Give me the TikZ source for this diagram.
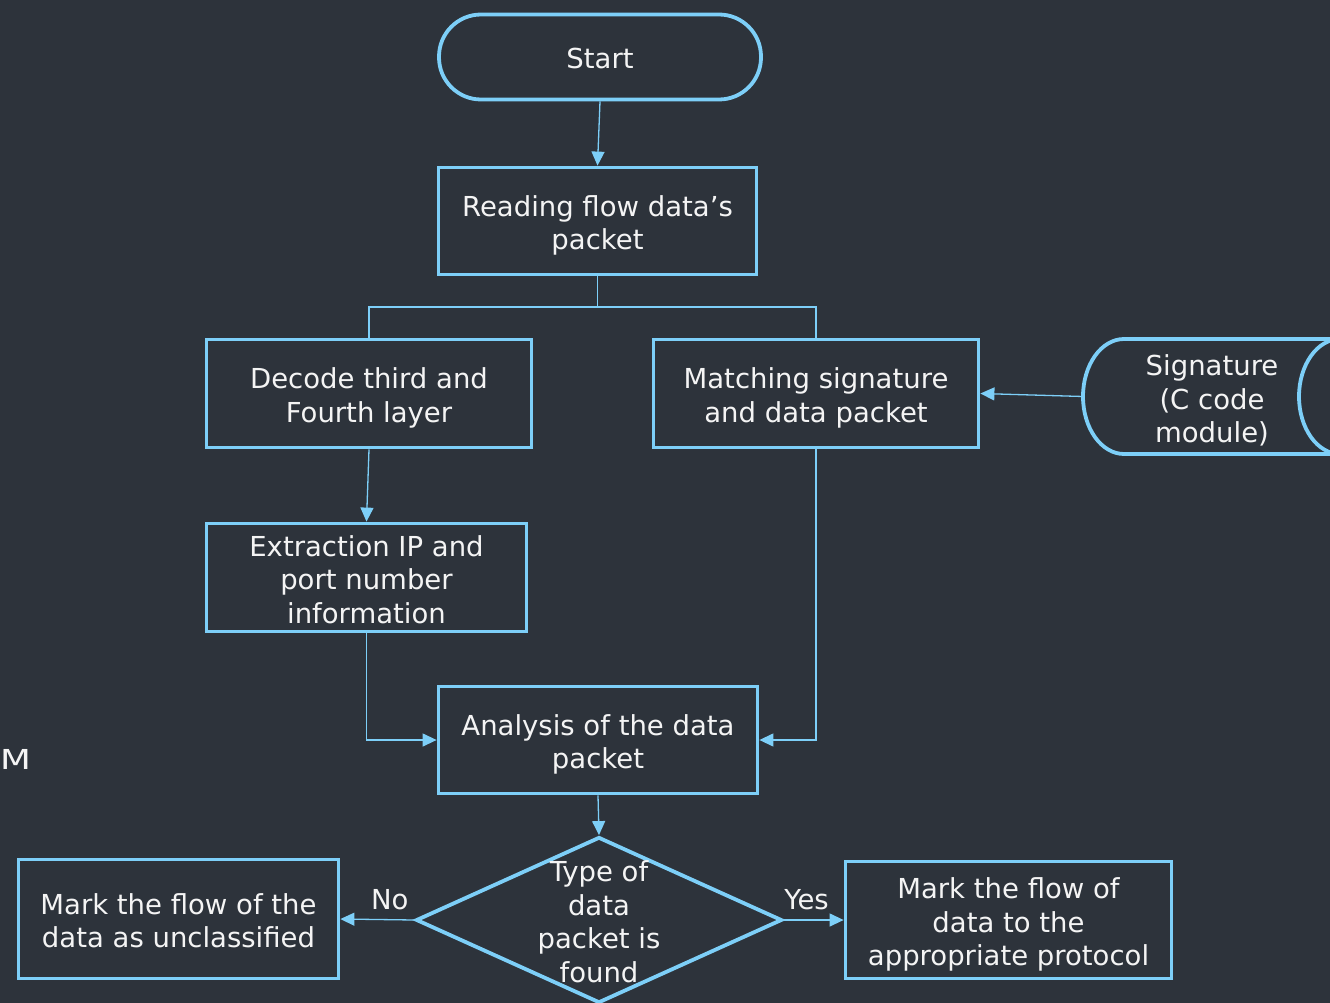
\documentclass[tikz,border=0pt]{standalone}
\usepackage{fontspec}
\setmainfont{DejaVu Sans}
\usetikzlibrary{shapes.geometric,arrows.meta}
\definecolor{bg}{HTML}{2D333B}
\definecolor{ln}{HTML}{7DCFF8}
\definecolor{tx}{HTML}{F4F4F4}
\newcommand\lnst{\rule[-6.5pt]{0pt}{32pt}}
\newcommand\lnfs{\rule[-6.5pt]{0pt}{37pt}}
\begin{document}
\begin{tikzpicture}[x=1pt,y=-1pt,
  txt/.style={text=tx, align=center, inner sep=0pt, font=\fontsize{27.5pt}{33.5pt}\selectfont},
  box/.style={txt, draw=ln, line width=3.8pt},
  conn/.style={draw=ln, line width=1.3pt, -{Triangle[length=14pt,width=13pt]}},
  plain/.style={draw=ln, line width=1.3pt},
  lbl/.style={text=tx, inner sep=3pt, font=\fontsize{27.5pt}{33.5pt}\selectfont}]
\fill[bg] (0,0) rectangle (1330,1003);
\useasboundingbox (0,0) rectangle (1330,1003);

\node[box, rounded corners=42pt, minimum width=322pt, minimum height=85pt] (start) at (600,57) {\lnfs Start};
\node[box, minimum width=318pt, minimum height=107pt] (read) at (597.5,221) {\lnfs Reading flow data’s\\\lnst packet};
\node[box, minimum width=325pt, minimum height=108pt] (decode) at (369,393.5) {\lnfs Decode third and\\\lnst Fourth layer};
\node[box, minimum width=325pt, minimum height=108pt] (match) at (816,393.5) {\lnfs Matching signature\\\lnst and data packet};
\node[box, minimum width=320pt, minimum height=108pt] (extract) at (366.5,577.5) {\lnfs Extraction IP and\\\lnst port number\\\lnst information};
\node[box, minimum width=319pt, minimum height=107pt] (analysis) at (598,740) {\lnfs Analysis of the data\\\lnst packet};
\node[draw=ln, line width=3.8pt, diamond, inner sep=0pt, minimum width=366pt, minimum height=166pt] (dia) at (599,920) {};
\node[txt] (diatext) at (599,920) {\lnfs Type of\\\lnst data\\\lnst packet is\\\lnst found};
\node[box, minimum width=320pt, minimum height=119pt] (uncl) at (178.5,919) {\lnfs Mark the flow of the\\\lnst data as unclassified};
\node[box, minimum width=326pt, minimum height=117pt] (proto) at (1008.5,920) {\lnfs Mark the flow of\\\lnst data to the\\\lnst appropriate protocol};

% signature stored-data shape
\draw[ln, line width=3.8pt] (1345,339) -- (1124,339) arc[start angle=270, end angle=90, x radius=41, y radius=57.5] -- (1345,454);
\draw[ln, line width=3.8pt] (1340,339) arc[start angle=270, end angle=90, x radius=41, y radius=57.5];
\node[txt] (sig) at (1212,397) {\lnfs Signature\\\lnst (C code\\\lnst module)};
\coordinate (sigL) at (1083,396.5);

\node[lbl, inner sep=0pt, anchor=west] (m) at (0,759) {\scalebox{1.3}[1]{M}};

% connectors
\coordinate (split) at (597.5,307);
\draw[conn] (start.south) -- (read.north);
\draw[plain] (read.south) -- (split);
\draw[plain] (split) -| (decode.north);
\draw[plain] (split) -| (match.north);
\draw[conn] (decode.south) -- (extract.north);
\draw[conn] (extract.south) |- (analysis.west);
\draw[conn] (match.south) |- (analysis.east);
\draw[conn] (sigL) -- (match.east);
\draw[conn] (analysis.south) -- (dia.north);
\draw[conn] (dia.west) -- node[lbl, pos=0.33, above=6pt] (no) {No} (uncl.east);
\draw[conn] (dia.east) -- node[lbl, pos=0.38, above=6pt] (yes) {Yes} (proto.west);
\end{tikzpicture}
\end{document}
